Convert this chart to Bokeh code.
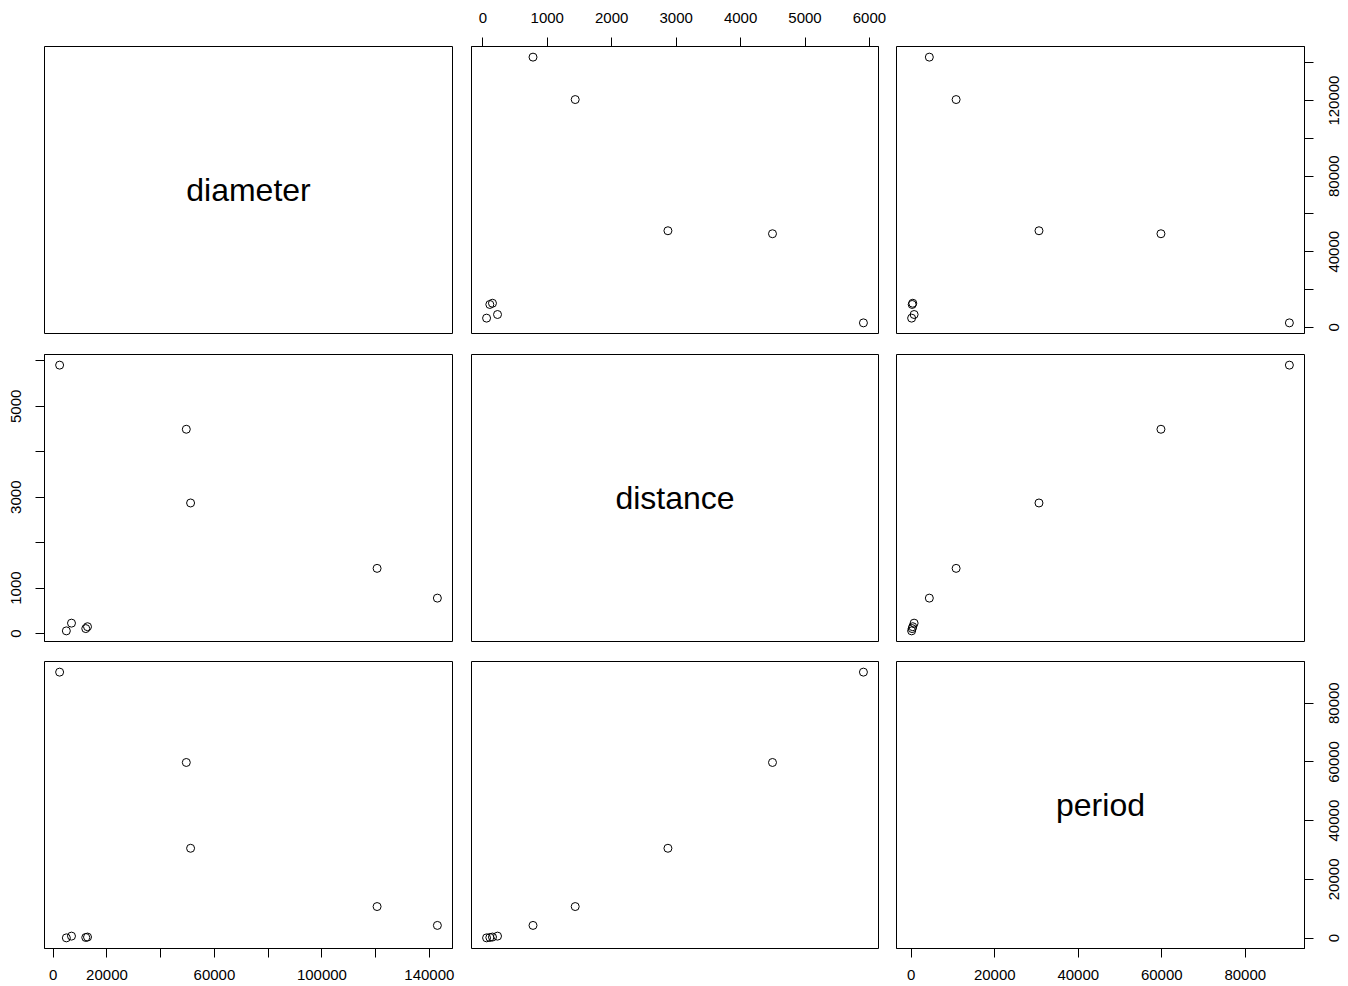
import math
from bokeh.plotting import figure
from bokeh.models import LinearAxis, FixedTicker, Range1d
from bokeh.layouts import column, row
from bokeh.embed import file_html
from bokeh.resources import INLINE
from bokeh.core.properties import value

# Planet data (Mercury .. Pluto)
planets = ["Mercury", "Venus", "Earth", "Mars", "Jupiter", "Saturn", "Uranus", "Neptune", "Pluto"]
diameter = [4879, 12104, 12756, 6792, 142984, 120536, 51118, 49528, 2370]
distance = [57.9, 108.2, 149.6, 227.9, 778.6, 1433.5, 2872.5, 4495.1, 5906.4]
period = [88.0, 224.7, 365.2, 687.0, 4331, 10747, 30589, 59800, 90560]

var_names = ["diameter", "distance", "period"]
data = {"diameter": diameter, "distance": distance, "period": period}

diameter_ticks = [0, 20000, 40000, 60000, 80000, 100000, 120000, 140000]
distance_ticks = [0, 1000, 2000, 3000, 4000, 5000, 6000]
period_ticks = [0, 20000, 40000, 60000, 80000]
ticks = {"diameter": diameter_ticks, "distance": distance_ticks, "period": period_ticks}

# labels shown on each axis (R drops overlapping labels)
diameter_bottom_labels = [0, 20000, 60000, 100000, 140000]
diameter_right_labels = [0, 40000, 80000, 120000]
distance_top_labels = distance_ticks
distance_left_labels = [0, 1000, 3000, 5000]
period_bottom_labels = period_ticks
period_right_labels = period_ticks

FONT = "Liberation Sans"
TICK_FS = "15px"


def rng(v):
    lo, hi = min(v), max(v)
    s = hi - lo
    return Range1d(lo - 0.04 * s, hi + 0.04 * s)


def make_axis(var, shown, orientation=None, standoff=11):
    ax = LinearAxis()
    ax.ticker = FixedTicker(ticks=ticks[var])
    ax.major_label_overrides = {t: (str(t) if t in shown else "") for t in ticks[var]}
    ax.major_tick_out = 9
    ax.major_tick_in = 0
    ax.minor_tick_out = 0
    ax.minor_tick_in = 0
    ax.axis_line_color = "black"
    ax.major_tick_line_color = "black"
    ax.major_label_text_font = FONT
    ax.major_label_text_font_size = TICK_FS
    ax.major_label_text_color = "black"
    ax.major_label_standoff = standoff
    if orientation is not None:
        ax.major_label_orientation = orientation
    return ax


lefts = [44, 9, 8]
rights = [10, 10, 10]
fws = [408, 407, 408]
tops = [46, 11, 10]
bottoms = [10, 10, 36]
FH = 287
LABW = 32  # strip holding the right-hand (rotated) tick labels

right_labels = {0: ("diameter", diameter_right_labels), 2: ("period", period_right_labels)}

rows = []
for i, yv in enumerate(var_names):
    figs = []
    for j, xv in enumerate(var_names):
        xr = rng(data[xv])
        yr = rng(data[yv]) if i != j else rng(data[xv])
        p = figure(width=lefts[j] + fws[j] + rights[j], height=tops[i] + FH + bottoms[i],
                   x_range=xr, y_range=yr, output_backend="svg", toolbar_location=None,
                   x_axis_location=None, y_axis_location=None,
                   min_border_left=lefts[j], min_border_right=rights[j],
                   min_border_top=tops[i], min_border_bottom=bottoms[i])
        p.grid.visible = False
        p.outline_line_color = "black"
        p.outline_line_width = 1
        p.background_fill_color = "white"
        p.border_fill_color = "white"
        if i == j:
            xlo, xhi = xr.start, xr.end
            p.text(x=[(xlo + xhi) / 2], y=[(xlo + xhi) / 2], text=[xv],
                   text_font=value(FONT), text_font_size="32px",
                   text_align="center", text_baseline="middle", text_color="black")
        else:
            p.scatter(x=data[xv], y=data[yv], marker="circle", size=8,
                      fill_color=None, line_color="black", line_width=1)
        # axes as in R pairs()
        if i == 0 and j == 1:
            p.add_layout(make_axis("distance", distance_top_labels, None, 15), "above")
        if i == 2 and j == 0:
            p.add_layout(make_axis("diameter", diameter_bottom_labels, None, 12), "below")
        if i == 2 and j == 2:
            p.add_layout(make_axis("period", period_bottom_labels, None, 12), "below")
        if j == 0 and i == 1:
            p.add_layout(make_axis("distance", distance_left_labels, "vertical", 14), "left")
        if j == 2 and i in right_labels:
            ax = make_axis(right_labels[i][0], [], None, 0)
            ax.major_label_text_font_size = "0px"
            p.add_layout(ax, "right")
        figs.append(p)
    if i in right_labels:
        var, shown = right_labels[i]
        yr = rng(data[var])
        q = figure(width=LABW, height=tops[i] + FH + bottoms[i],
                   x_range=Range1d(0, LABW), y_range=yr, output_backend="svg",
                   toolbar_location=None, x_axis_location=None, y_axis_location=None,
                   min_border_left=0, min_border_right=0,
                   min_border_top=tops[i], min_border_bottom=bottoms[i])
        q.grid.visible = False
        q.outline_line_color = None
        q.border_fill_color = "white"
        q.background_fill_color = "white"
        q.text(x=[19] * len(shown), y=shown, text=[str(t) for t in shown],
               angle=math.pi / 2, text_align="center", text_baseline="middle",
               text_font=value(FONT), text_font_size=TICK_FS, text_color="black")
        figs.append(q)
    rows.append(row(*figs, spacing=0))

layout = column(*rows, spacing=0)

open("out.html", "w").write(file_html(layout, INLINE))
